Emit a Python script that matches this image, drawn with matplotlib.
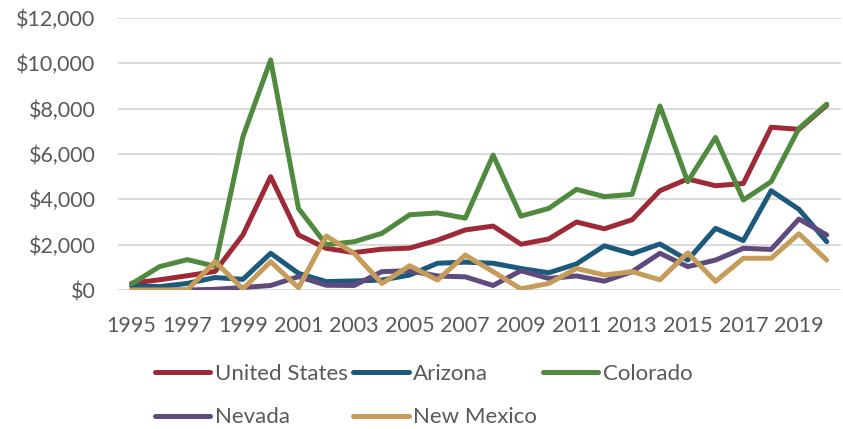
import matplotlib
matplotlib.use("Agg")
import matplotlib.pyplot as plt
from matplotlib.ticker import FuncFormatter

years = list(range(1995, 2021))
us = [300, 450, 630, 820, 2430, 5000, 2430, 1840, 1650, 1800, 1850, 2200, 2650,
      2820, 2020, 2250, 3000, 2700, 3100, 4380, 4900, 4600, 4700, 7180, 7090, 8150]
arizona = [180, 150, 290, 550, 470, 1620, 735, 370, 400, 440, 660, 1180, 1230,
           1180, 950, 760, 1150, 1950, 1600, 2030, 1320, 2720, 2180, 4380, 3560, 2130]
colorado = [270, 1030, 1340, 1050, 6760, 10150, 3600, 2000, 2130, 2500, 3320, 3400, 3170,
            5950, 3260, 3600, 4440, 4120, 4220, 8120, 4780, 6730, 3970, 4780, 7130, 8200]
nevada = [0, 0, 0, 30, 110, 200, 590, 210, 200, 810, 850, 620, 580,
          200, 850, 510, 620, 390, 810, 1620, 1030, 1320, 1840, 1790, 3130, 2430]
new_mexico = [0, 0, 0, 1250, 50, 1250, 100, 2380, 1620, 290, 1070, 440, 1540,
              810, 50, 290, 950, 660, 810, 450, 1640, 380, 1400, 1400, 2480, 1320]

series = [
    ("United States", us, "#9E2A37"),
    ("Arizona", arizona, "#1C5A7D"),
    ("Colorado", colorado, "#4F8A3F"),
    ("Nevada", nevada, "#5F4A7E"),
    ("New Mexico", new_mexico, "#C69C5B"),
]

plt.rcParams["font.family"] = ["Lato", "DejaVu Sans"]
TEXT = "#595959"

fig = plt.figure(figsize=(8.43, 4.29), dpi=100)
ax = fig.add_axes([0.1397, 0.324, 0.8575, 0.634])

lines = {}
for name, vals, color in series:
    (ln,) = ax.plot(years, vals, color=color, linewidth=3.6, label=name,
                    solid_capstyle="round", solid_joinstyle="round")
    lines[name] = ln

ax.set_xlim(years[0] - 0.5, years[-1] + 0.5)
ax.set_ylim(0, 12000)
ax.set_yticks(range(0, 12001, 2000))
ax.yaxis.set_major_formatter(FuncFormatter(lambda v, _: f"${v:,.0f}"))
ax.set_xticks(years[::2])
ax.grid(axis="y", color="#D9D9D9", linewidth=1.4)
ax.set_axisbelow(True)
for s in ax.spines.values():
    s.set_visible(False)
ax.tick_params(axis="both", length=0, colors=TEXT, labelsize=15.5)
ax.tick_params(axis="y", pad=16)
ax.tick_params(axis="x", pad=19)

order = ["United States", "Nevada", "Arizona", "New Mexico", "Colorado"]
fig.legend([lines[n] for n in order], order, loc="lower left",
           bbox_to_anchor=(0.173, -0.017), ncol=3, frameon=False,
           fontsize=16, labelcolor=TEXT, handlelength=2.5, handletextpad=0.2,
           columnspacing=0.25, labelspacing=1.05, borderaxespad=0)

fig.savefig("out.png", dpi=100)
